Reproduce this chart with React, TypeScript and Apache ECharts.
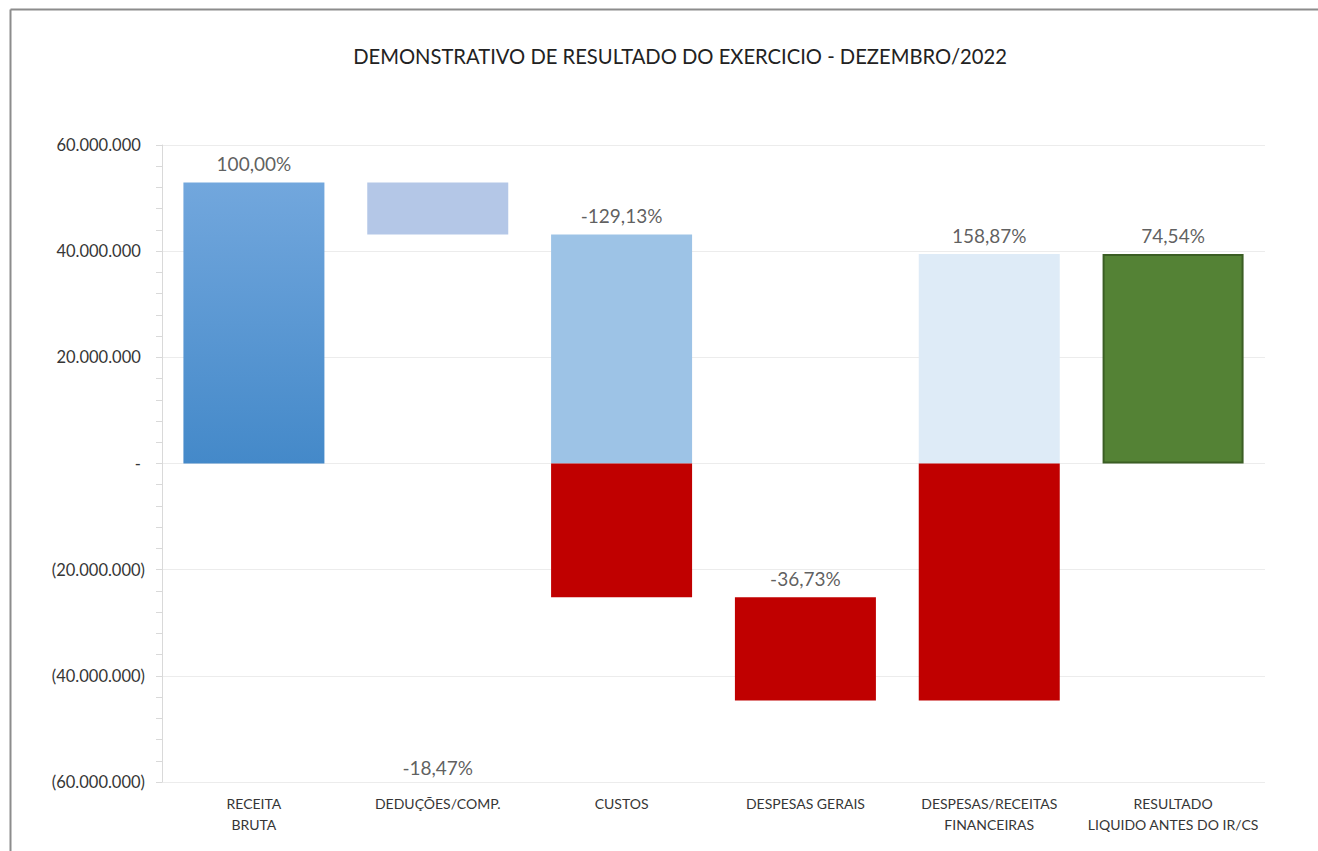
import React, { useEffect, useRef } from "react";
import * as echarts from "echarts";

const TITLE = "DEMONSTRATIVO DE RESULTADO DO EXERCICIO - DEZEMBRO/2022";
const CATEGORIES = [
  "RECEITA\nBRUTA",
  "DEDUÇÕES/COMP.",
  "CUSTOS",
  "DESPESAS GERAIS",
  "DESPESAS/RECEITAS\nFINANCEIRAS",
  "RESULTADO\nLIQUIDO ANTES DO IR/CS",
];
// variation of each step (totals are absolute values)
const VALUES = [52_940_000, -9_780_000, -68_360_000, -19_445_000, 84_105_000, 39_460_000];
const IS_TOTAL = [true, false, false, false, false, true];
const PCT_LABELS = ["100,00%", "-18,47%", "-129,13%", "-36,73%", "158,87%", "74,54%"];
// Excel placed the DEDUÇÕES label near the bottom of the axis
const DEDUCOES_LABEL_AT = -57_200_000;
const Y_TICKS = { min: -60_000_000, max: 60_000_000, interval: 20_000_000 };

const FONT = "Lato, 'Open Sans', sans-serif";
const TEXT = "#363636";
const RED = "#c00000";
const POS_COLORS: any[] = [
  new echarts.graphic.LinearGradient(0, 0, 0, 1, [
    { offset: 0, color: "#72a7dd" },
    { offset: 1, color: "#4489c9" },
  ]),
  "#b4c7e7",
  "#9dc3e6",
  "#9dc3e6",
  "#deebf7",
  "#548235",
];

function build() {
  const base: number[] = [];
  const pos: number[] = [];
  const neg: number[] = [];
  const tops: number[] = [];
  let run = 0;
  VALUES.forEach((v, i) => {
    let start: number, end: number;
    if (IS_TOTAL[i]) {
      start = 0;
      end = v;
      run = v;
    } else {
      start = run;
      end = run + v;
      run = end;
    }
    const hi = Math.max(start, end);
    const lo = Math.min(start, end);
    tops.push(hi);
    if (lo >= 0) {
      base.push(lo);
      pos.push(hi - lo);
      neg.push(0);
    } else if (hi <= 0) {
      base.push(hi);
      pos.push(0);
      neg.push(lo - hi);
    } else {
      base.push(0);
      pos.push(hi);
      neg.push(lo);
    }
  });
  return { base, pos, neg, tops };
}

function fmtAxis(v: number) {
  if (v === 0) return "- ";
  const s = Math.abs(v)
    .toFixed(0)
    .replace(/\B(?=(\d{3})+(?!\d))/g, ".");
  return v < 0 ? `(${s})` : `${s} `;
}

export default function App() {
  const ref = useRef<HTMLDivElement>(null);
  useEffect(() => {
    if (!ref.current) return;
    const chart = echarts.init(ref.current, null, { renderer: "svg" });
    const { base, pos, neg, tops } = build();
    const barWidth = 141;
    const labelData = tops.map((t, i) => ({
      value: [i, i === 1 ? DEDUCOES_LABEL_AT : t],
      label: {
        show: true,
        formatter: PCT_LABELS[i],
        position: i === 1 ? "inside" : "top",
        distance: 9,
      },
    }));
    chart.setOption({
      animation: false,
      backgroundColor: "#ffffff",
      title: {
        text: TITLE,
        left: 675,
        top: 41,
        textAlign: "center",
        textStyle: { fontFamily: FONT, fontSize: 20.2, fontWeight: "normal", color: "#222222" },
      },
      graphic: [
        {
          type: "line",
          silent: true,
          z: -10,
          shape: { x1: 10.5, y1: 9.5, x2: 1318, y2: 9.5 },
          style: { stroke: "#8c8c8c", lineWidth: 2 },
        },
        {
          type: "line",
          silent: true,
          z: -10,
          shape: { x1: 10.5, y1: 9.5, x2: 10.5, y2: 851 },
          style: { stroke: "#8c8c8c", lineWidth: 2 },
        },
      ],
      grid: { left: 162, right: 53, top: 145, bottom: 69 },
      xAxis: {
        type: "category",
        data: CATEGORIES,
        axisLine: { show: false, onZero: false },
        axisTick: { show: false },
        axisLabel: {
          interval: 0,
          fontFamily: FONT,
          fontSize: 14,
          color: TEXT,
          lineHeight: 21,
          margin: 11,
        },
      },
      yAxis: {
        type: "value",
        min: Y_TICKS.min,
        max: Y_TICKS.max,
        interval: Y_TICKS.interval,
        axisLine: { show: true, lineStyle: { color: "#d9d9d9", width: 1 } },
        axisTick: { show: true, length: 6, lineStyle: { color: "#d9d9d9" } },
        minorTick: { show: true, splitNumber: 5, length: 6, lineStyle: { color: "#d9d9d9" } },
        splitLine: { show: true, lineStyle: { color: "#ececec", width: 1 } },
        axisLabel: {
          formatter: fmtAxis,
          fontFamily: FONT,
          fontSize: 16.5,
          color: TEXT,
          margin: 17,
        },
      },
      series: [
        {
          name: "base",
          type: "bar",
          stack: "w",
          barWidth,
          silent: true,
          itemStyle: { color: "transparent" },
          data: base,
        },
        {
          name: "positivo",
          type: "bar",
          stack: "w",
          barWidth,
          data: pos.map((v, i) => ({
            value: v,
            itemStyle:
              i === 5
                ? { color: POS_COLORS[i], borderColor: "#3b5e24", borderWidth: 2 }
                : { color: POS_COLORS[i] },
          })),
        },
        {
          name: "negativo",
          type: "bar",
          stack: "w",
          barWidth,
          itemStyle: { color: RED },
          data: neg,
        },
        {
          name: "rotulos",
          type: "scatter",
          symbolSize: 0,
          silent: true,
          z: 10,
          label: { fontFamily: FONT, fontSize: 19, color: TEXT },
          data: labelData,
        },
      ],
    });
    return () => chart.dispose();
  }, []);
  return (
    <div
      ref={ref}
      style={{ position: "fixed", left: 0, top: 0, width: 1318, height: 851, background: "#fff" }}
    />
  );
}
